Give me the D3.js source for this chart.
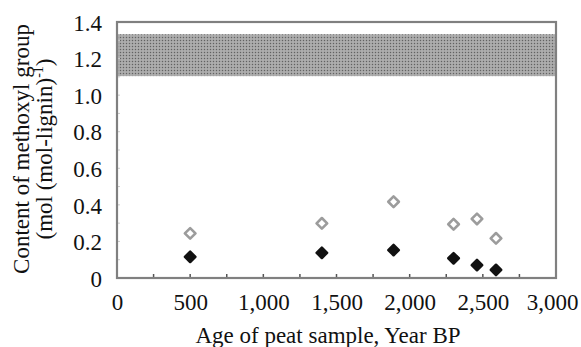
<!DOCTYPE html>
<html>
<head>
<meta charset="utf-8">
<script src="https://cdn.jsdelivr.net/npm/d3@7"></script>
<style>
  body { margin: 0; background: #fff; }
  text { font-family: "Liberation Serif", "DejaVu Serif", serif; fill: #111; }
</style>
</head>
<body>
<svg id="chart"></svg>
<script>
// sample ages (Year BP)
const ages = [500, 1400, 1890, 2300, 2460, 2590];
// methoxyl content, open diamonds (grey) and filled diamonds (black)
const openValues = [0.244, 0.299, 0.417, 0.294, 0.323, 0.217];
const filledValues = [0.116, 0.138, 0.153, 0.108, 0.071, 0.044];
// reference band (shaded range)
const bandRange = [1.104, 1.333];
const xTicks = [0, 500, 1000, 1500, 2000, 2500, 3000];
const yTicks = [0, 0.2, 0.4, 0.6, 0.8, 1.0, 1.2, 1.4];

const width = 581, height = 347;
const margin = { top: 22, right: 25, bottom: 69, left: 117 };
const innerW = width - margin.left - margin.right;
const innerH = height - margin.top - margin.bottom;
const fontSize = '23px';

const svg = d3.select('#chart')
    .attr('width', width)
    .attr('height', height);

// stipple pattern for the shaded band
const defs = svg.append('defs');
const pat = defs.append('pattern')
    .attr('id', 'stipple')
    .attr('width', 3)
    .attr('height', 3)
    .attr('patternUnits', 'userSpaceOnUse');
pat.append('rect').attr('width', 3).attr('height', 3).attr('fill', '#a2a2a2');
pat.append('rect').attr('width', 1).attr('height', 1).attr('fill', '#626262');
pat.append('rect').attr('x', 1.5).attr('y', 1.5).attr('width', 1).attr('height', 1).attr('fill', '#cfcfcf');

const g = svg.append('g')
    .attr('transform', `translate(${margin.left},${margin.top})`);

const x = d3.scaleLinear().domain([0, 3000]).range([0, innerW]);
const y = d3.scaleLinear().domain([0, 1.4]).range([innerH, 0]);

// band
g.append('rect')
    .attr('x', x(0))
    .attr('width', x(3000) - x(0))
    .attr('y', y(bandRange[1]))
    .attr('height', y(bandRange[0]) - y(bandRange[1]))
    .attr('fill', 'url(#stipple)');

// inner minor ticks on x axis
const xMinor = d3.range(250, 3000, 250);
g.append('g').selectAll('line')
    .data(xMinor)
    .join('line')
    .attr('x1', d => x(d)).attr('x2', d => x(d))
    .attr('y1', innerH).attr('y2', innerH - 4)
    .attr('stroke', '#555')
    .attr('stroke-width', 1.5);

// inner minor ticks on y axis
const yMinor = d3.range(1, 14).map(d => d / 10);
g.append('g').selectAll('line')
    .data(yMinor)
    .join('line')
    .attr('x1', 0).attr('x2', 3)
    .attr('y1', d => y(d)).attr('y2', d => y(d))
    .attr('stroke', '#ccc')
    .attr('stroke-width', 1);

// frame
g.append('rect')
    .attr('width', innerW)
    .attr('height', innerH)
    .attr('fill', 'none')
    .attr('stroke', '#808080')
    .attr('stroke-width', 2.2);

// axes (labels only)
const xAxis = d3.axisBottom(x)
    .tickValues(xTicks)
    .tickSize(0)
    .tickPadding(16)
    .tickFormat(d3.format(','));
g.append('g')
    .attr('transform', `translate(0,${innerH})`)
    .call(xAxis)
    .call(a => a.select('.domain').remove())
    .selectAll('text')
    .attr('dx', d => d === 3000 ? -4 : 0)
    .style('font-size', fontSize)
    .style('font-family', '"Liberation Serif", serif')
    .attr('fill', '#111');

const yAxis = d3.axisLeft(y)
    .tickValues(yTicks)
    .tickSize(0)
    .tickPadding(15)
    .tickFormat(d => d === 0 ? '0' : d3.format('.1f')(d));
g.append('g')
    .call(yAxis)
    .call(a => a.select('.domain').remove())
    .selectAll('text')
    .attr('dy', '0.36em')
    .style('font-size', fontSize)
    .style('font-family', '"Liberation Serif", serif')
    .attr('fill', '#111');

// points
const diamond = d3.symbol().type(d3.symbolDiamond2);
g.append('g').selectAll('path')
    .data(ages.map((a, i) => [a, openValues[i]]))
    .join('path')
    .attr('d', diamond.size(72)())
    .attr('transform', d => `translate(${x(d[0])},${y(d[1])})`)
    .attr('fill', 'none')
    .attr('stroke', '#9c9c9c')
    .attr('stroke-width', 2.6)
    .attr('stroke-linejoin', 'round');

g.append('g').selectAll('path')
    .data(ages.map((a, i) => [a, filledValues[i]]))
    .join('path')
    .attr('d', diamond.size(70)())
    .attr('transform', d => `translate(${x(d[0])},${y(d[1])})`)
    .attr('fill', '#111')
    .attr('stroke', '#111')
    .attr('stroke-width', 2.5)
    .attr('stroke-linejoin', 'round');

// axis titles
svg.append('text')
    .attr('x', 328)
    .attr('y', 343)
    .attr('text-anchor', 'middle')
    .style('font-size', fontSize)
    .text('Age of peat sample, Year BP');

const yTitle = svg.append('text')
    .attr('transform', 'translate(0,149) rotate(-90)')
    .attr('text-anchor', 'middle')
    .style('font-size', fontSize);
yTitle.append('tspan')
    .attr('x', 0).attr('y', 29)
    .text('Content of methoxyl group');
yTitle.append('tspan')
    .attr('x', 0).attr('y', 52)
    .text('(mol (mol-lignin)');
yTitle.append('tspan')
    .attr('dy', -9)
    .style('font-size', '14px')
    .text('-1');
yTitle.append('tspan')
    .attr('dy', 9)
    .text(')');
</script>
</body>
</html>
